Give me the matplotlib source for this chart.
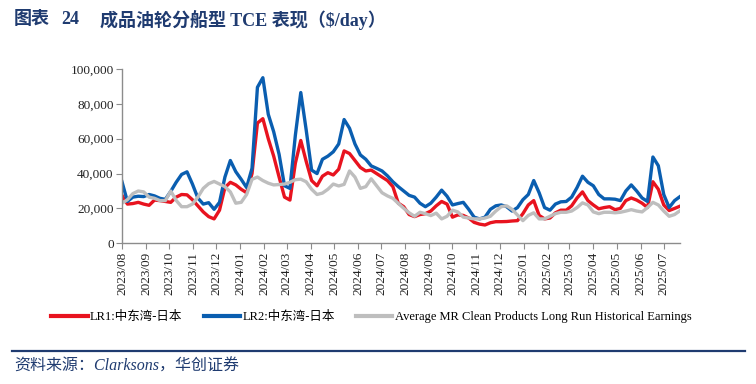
import pandas as pd
import matplotlib.pyplot as plt
import matplotlib.dates as mdates
import matplotlib.ticker as mticker

plt.rcParams['font.family'] = ['Liberation Serif', 'Noto Sans CJK SC']

# weekly TCE ($/day), starting first week of 2023/08
dates = pd.date_range("2023-08-01", periods=104, freq="7D")

lr1 = [27500, 22500, 22800, 23500, 22500, 21800, 24800, 24500, 24000, 23500,
       26500, 28000, 27800, 25000, 21500, 18000, 15300, 14000, 19000, 32000,
       35000, 33500, 31000, 29000, 40000, 69000, 71500, 60000, 50000, 38000,
       26500, 24800, 46000, 59000, 47000, 36000, 33000, 38500, 40500, 39200,
       42500, 53000, 51500, 47500, 43500, 41500, 42000, 40000, 38000, 36000,
       32500, 23000, 21000, 16500, 15300, 16500, 17000, 18500, 21500, 24000,
       22500, 15000, 16300, 16000, 14500, 12000, 11000, 10500, 11800, 12400,
       12400, 12500, 12800, 13000, 17000, 22000, 24500, 16000, 14000, 14500,
       17500, 19000, 19000, 21500, 26000, 29500, 24500, 22000, 19800, 20500,
       21000, 19300, 20000, 24500, 26000, 24800, 23000, 20500, 35300, 31000,
       22000, 18800, 20000, 21300]

lr2 = [35300, 24000, 26500, 27000, 26800, 28000, 27200, 25800, 25200, 29800,
       35000, 39500, 41000, 34000, 26000, 22500, 23300, 19500, 23500, 38000,
       47500, 41100, 36700, 32000, 43000, 89500, 95000, 74000, 64000, 51000,
       33000, 31500, 62000, 86500, 65000, 42000, 40000, 48200, 50000, 52500,
       57000, 71000, 66000, 57000, 50700, 48200, 44400, 43000, 41500, 38700,
       35300, 32500, 30000, 27500, 26500, 23000, 21000, 23000, 26500, 30500,
       27000, 22000, 22800, 23500, 19500, 15000, 14000, 15000, 19500, 21500,
       22000, 21000, 18500, 20500, 25000, 28000, 36000, 29000, 20500, 19000,
       22500, 23800, 24000, 26500, 32000, 38500, 35000, 33000, 28000, 25500,
       25500, 25300, 24500, 30000, 33500, 30000, 26000, 24000, 49500, 44500,
       28000, 20500, 24500, 26800]

avg_mr = [23000, 25000, 28500, 30000, 29500, 26500, 25800, 24500, 24500, 30000,
          24600, 21000, 21000, 22500, 26500, 31500, 34200, 35500, 34000, 32500,
          29500, 23000, 23500, 28000, 36700, 38000, 36000, 34500, 33500, 33700,
          34000, 35000, 36500, 36800, 35300, 31000, 28000, 28800, 31000, 34000,
          32900, 33800, 41500, 38000, 31500, 32500, 37000, 33000, 29000, 27200,
          25800, 22900, 20100, 17500, 15500, 17800, 17000, 15900, 17300, 14000,
          15500, 19000, 18000, 15000, 14500, 14000, 14000, 14500, 15500, 18500,
          21000, 21500, 19500, 16200, 13000, 16000, 17500, 14000, 14000, 15500,
          17000, 17800, 17800, 18500, 20500, 23200, 22000, 18000, 17000, 17800,
          17800, 17500, 17800, 18500, 19300, 18500, 18000, 20500, 23500, 22000,
          18500, 15500, 16500, 18700]

labels = ["LR1:中东湾-日本", "LR2:中东湾-日本",
          "Average MR Clean Products Long Run Historical Earnings"]
colors = ["#E8131F", "#0A5EB0", "#BEBEBE"]
navy = "#1F3B70"

fig = plt.figure(figsize=(7.56, 3.84), dpi=100)
ax = fig.add_axes([122 / 756, 1 - 243.3 / 384, (680 - 122) / 756, (243.3 - 69) / 384])

for vals, lab, c in zip([lr1, lr2, avg_mr], labels, colors):
    ax.plot(dates, vals, color=c, lw=2.4, label=lab, solid_joinstyle="round")

ax.set_ylim(0, 100000)
ax.set_xlim(dates[0], dates[-1])
ax.yaxis.set_major_locator(mticker.MultipleLocator(20000))
ax.yaxis.set_major_formatter(mticker.FuncFormatter(lambda v, p: f"{v:,.0f}"))
ax.xaxis.set_major_locator(mdates.MonthLocator())
ax.xaxis.set_major_formatter(mdates.DateFormatter("%Y/%m"))
plt.setp(ax.get_xticklabels(), rotation=90)

for s in ["top", "right"]:
    ax.spines[s].set_visible(False)
for s in ["left", "bottom"]:
    ax.spines[s].set_color("#8C8C8C")
    ax.spines[s].set_linewidth(1)
ax.tick_params(direction="out", length=4, color="#8C8C8C", labelsize=9.5,
               labelcolor="#222222", pad=2)

# title, in three pieces to keep the wide gaps
ty = 1 - 20 / 384
fig.text(14 / 756, ty, "图表", fontsize=13, fontweight="bold", color=navy, va="center")
fig.text(61 / 756, ty, "24", fontsize=13, fontweight="bold", color=navy, va="center")
fig.text(100 / 756, ty, "成品油轮分船型 TCE 表现（$/day）",
         fontsize=13, fontweight="bold", color=navy, va="center")

leg = fig.legend(loc="center left", bbox_to_anchor=(40 / 756, 1 - 317 / 384),
                 ncol=3, frameon=False, fontsize=9, handlelength=2.9,
                 handletextpad=0.2, columnspacing=1.7)
for line in leg.get_lines():
    line.set_linewidth(3)

# footer
fig.add_artist(plt.Line2D([12 / 756, 745 / 756], [1 - 350.5 / 384] * 2,
                          color=navy, lw=1.6))
fig.text(14 / 756, 1 - 366.5 / 384, "资料来源：Clarksons，华创证券",
         fontsize=11.5, style="italic", color=navy, va="center")

fig.savefig("out.png", dpi=100, facecolor="white")
